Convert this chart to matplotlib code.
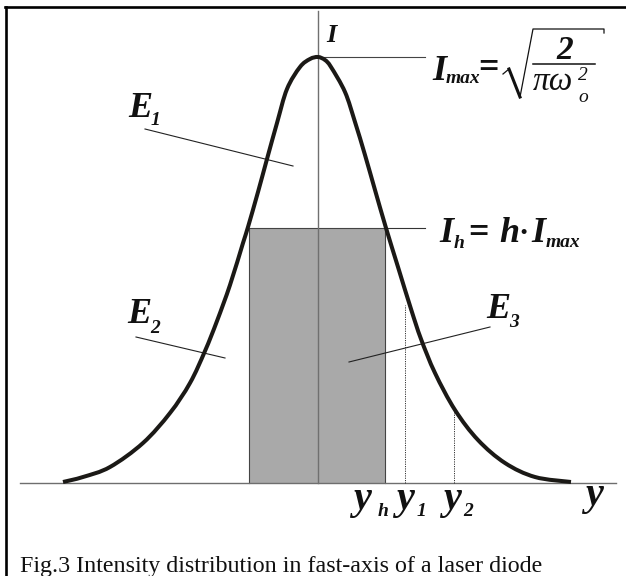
import matplotlib
matplotlib.use("Agg")
import matplotlib.pyplot as plt
from matplotlib.path import Path
from matplotlib.patches import PathPatch

# ---- data (diagram units: horizontal position, intensity above the baseline) ----
curve_pos = [63, 83, 110, 143, 170, 190, 205, 217, 230, 243, 248, 258, 267, 277, 287,
             300, 310, 318, 325, 331, 345, 355, 365, 375, 386, 398, 411, 421, 435,
             455, 478, 505, 535, 571]
curve_I = [1, 6, 16, 40, 70, 100, 132, 162, 198, 240, 256, 291, 324, 360, 394,
           416, 424, 426, 423, 416, 391, 361, 328, 293, 255, 216, 174, 144, 110,
           73, 43, 20, 6, 1]
center = 318
I_max = 426
I_h = 255
y_h_left, y_h = 249, 385
y_1, I_y1 = 405, 178
y_2, I_y2 = 454, 72
axis_labels = ["y", "h", "y", "1", "y", "2", "y"]
caption = "Fig.3 Intensity distribution in fast-axis of a laser diode"

BASE = 483  # pixel row of the baseline
serif = "Liberation Serif"

fig = plt.figure(figsize=(6.26, 5.76), dpi=100)
ax = fig.add_axes([0, 0, 1, 1])
ax.set_xlim(0, 626)
ax.set_ylim(BASE - 576, BASE)
ax.axis("off")

def py(p):
    return BASE - p

# frame (top and left)
ax.plot([6, 6], [py(6.5), py(580)], color="black", lw=1.9, clip_on=False)
ax.plot([5.1, 630], [py(6.5), py(6.5)], color="black", lw=1.9, clip_on=False)

# rectangle
ax.fill_between([y_h_left, y_h], 0, I_h, color="#a9a9a9", lw=0, zorder=1)
ax.plot([y_h_left, y_h_left, y_h, y_h], [0, I_h, I_h, 0], color="#444444", lw=0.8, zorder=2)

# axes lines
ax.plot([20, 616], [0, 0], color="#6e6e6e", lw=1.0, zorder=3)
ax.plot([center, center], [0, py(11)], color="#707070", lw=1.0, zorder=3)

# reference lines
ax.plot([center, 425], [I_max, I_max], color="#444444", lw=0.8, zorder=3)
ax.plot([y_h, 425], [I_h, I_h], color="#333333", lw=0.8, zorder=3)
ax.plot([y_1, y_1], [0, I_y1], color="#333333", lw=0.7, ls=(0, (1.2, 1.2)), zorder=3)
ax.plot([y_2, y_2], [0, I_y2], color="#333333", lw=0.7, ls=(0, (1.2, 1.2)), zorder=3)

# leader lines
ax.plot([145, 293], [py(129), py(166)], color="#222222", lw=0.8, zorder=3)
ax.plot([136, 225], [py(337), py(358)], color="#222222", lw=0.8, zorder=3)
ax.plot([349, 490], [py(362), py(327)], color="#222222", lw=0.8, zorder=3)

# curve: smooth Bezier path through the read points (Catmull-Rom tangents)
pts = list(zip(curve_pos, curve_I))
verts = [pts[0]]
codes = [Path.MOVETO]
n = len(pts)
for i in range(n - 1):
    p0 = pts[i - 1] if i > 0 else pts[i]
    p1 = pts[i]
    p2 = pts[i + 1]
    p3 = pts[i + 2] if i + 2 < n else pts[i + 1]
    c1 = (p1[0] + (p2[0] - p0[0]) / 6.0, p1[1] + (p2[1] - p0[1]) / 6.0)
    c2 = (p2[0] - (p3[0] - p1[0]) / 6.0, p2[1] - (p3[1] - p1[1]) / 6.0)
    verts += [c1, c2, p2]
    codes += [Path.CURVE4] * 3
ax.add_patch(PathPatch(Path(verts, codes), facecolor="none", edgecolor="#1b1916",
                       lw=2.9, capstyle="butt", joinstyle="round", zorder=5))

def T(x, p, s, size, weight="bold", style="italic"):
    ax.text(x, py(p), s, fontsize=size, family=serif, fontweight=weight,
            style=style, ha="left", va="baseline", color="#111111", zorder=6)

big, small = 26, 14
T(326, 42, "I", 19)
T(128, 117, "E", big); T(151, 125, "1", small)
T(127, 323, "E", big); T(150, 333, "2", small)
T(486, 318, "E", big); T(509, 327, "3", small)

# I_max = sqrt(2 / (pi w_o^2))
T(432, 80, "I", big); T(446, 83, "max", small)
T(478, 77, "=", big, style="normal")
ax.plot([503, 509], [py(74), py(69)], color="#111111", lw=0.9, zorder=6)
ax.plot([509, 520], [py(69), py(97)], color="#111111", lw=2.2, zorder=6)
ax.plot([520, 533, 604, 604], [py(97), py(29), py(29), py(33)], color="#111111", lw=0.9, zorder=6)
T(556, 59, "2", 24)
ax.plot([533, 595], [py(63.5), py(63.5)], color="#111111", lw=1.1, zorder=6)
T(533, 90, "πω", 24, weight="normal")
T(578, 80, "2", small, weight="normal")
T(578, 102, "o", small, weight="normal")

# I_h = h . I_max
T(439, 242, "I", big); T(454, 248, "h", small)
T(468, 242, "=", big, style="normal")
T(499, 242, "h", big); T(518, 242, "·", 22, style="normal")
T(531, 242, "I", big); T(546, 247, "max", small)

# axis labels
ybig = 29
T(353, 509, axis_labels[0], ybig); T(378, 516, axis_labels[1], small)
T(396, 509, axis_labels[2], ybig); T(417, 516, axis_labels[3], small)
T(443, 509, axis_labels[4], ybig); T(463, 516, axis_labels[5], small)
T(585, 505, axis_labels[6], ybig)

ax.text(20, py(572), caption, fontsize=17.3, family=serif, ha="left", va="baseline",
        color="#111111")

fig.savefig("out.png", dpi=100)
